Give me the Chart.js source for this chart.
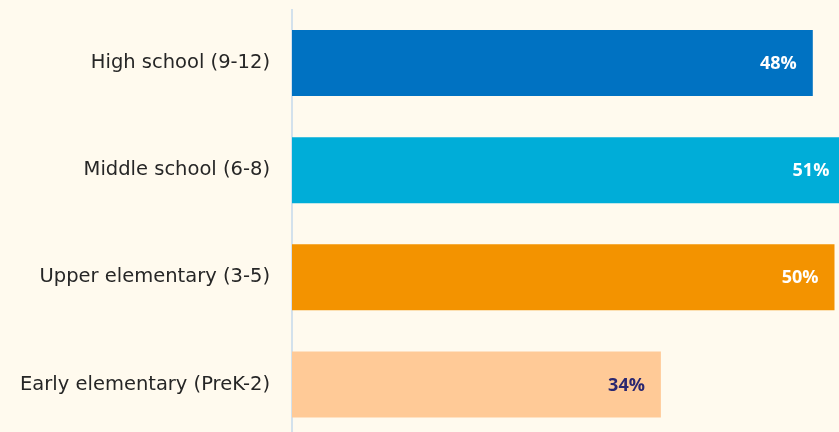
<!DOCTYPE html>
<html>
<head>
<meta charset="utf-8">
<script src="https://cdn.jsdelivr.net/npm/chart.js@4"></script>
<style>
    html, body { margin: 0; padding: 0; overflow: hidden; background: #fffaee; }
    #wrap { position: relative; width: 900px; height: 438px; }
</style>
</head>
<body>
<div id="wrap"><canvas id="grade-chart"></canvas></div>
<script>
const categories = ['High school (9-12)', 'Middle school (6-8)', 'Upper elementary (3-5)', 'Early elementary (PreK-2)'];
const values = [48, 51, 50, 34];
const valueLabels = ['48%', '51%', '50%', '34%'];
const barColors = ['#0072c2', '#00add8', '#f39300', '#ffca97'];
const labelColors = ['#ffffff', '#ffffff', '#ffffff', '#2a2770'];

// draws the percentage inside the end of each bar
const barLabels = {
    id: 'barLabels',
    afterDatasetsDraw(chart) {
        const ctx = chart.ctx;
        const meta = chart.getDatasetMeta(0);
        ctx.save();
        ctx.font = 'bold 18px "Open Sans"';
        ctx.textAlign = 'right';
        ctx.textBaseline = 'middle';
        meta.data.forEach((bar, i) => {
            ctx.fillStyle = labelColors[i];
            ctx.fillText(valueLabels[i], bar.x - 16, bar.y + 1);
        });
        ctx.restore();
    }
};

const ctx = document.getElementById('grade-chart').getContext('2d');
new Chart(ctx, {
    type: 'bar',
    data: {
        labels: categories,
        datasets: [{
            data: values,
            backgroundColor: barColors,
            borderWidth: 0,
            barPercentage: 0.617,
            categoryPercentage: 1
        }]
    },
    options: {
        indexAxis: 'y',
        responsive: true,
        maintainAspectRatio: false,
        animation: false,
        layout: {
            padding: { top: 9.5, right: 8, bottom: 0, left: 0 }
        },
        plugins: {
            legend: { display: false },
            tooltip: { enabled: false }
        },
        scales: {
            x: {
                display: false,
                min: 0,
                max: 55.3
            },
            y: {
                afterFit: scale => {
                    scale.width = 292;
                    scale.paddingTop = 0;
                    scale.paddingBottom = 0;
                },
                grid: { display: false },
                border: { display: true, color: '#d3e1ec', width: 2 },
                ticks: {
                    color: '#262626',
                    padding: 14,
                    font: { family: 'DejaVu Sans', size: 19.5 }
                }
            }
        }
    },
    plugins: [barLabels]
});
</script>
</body>
</html>
